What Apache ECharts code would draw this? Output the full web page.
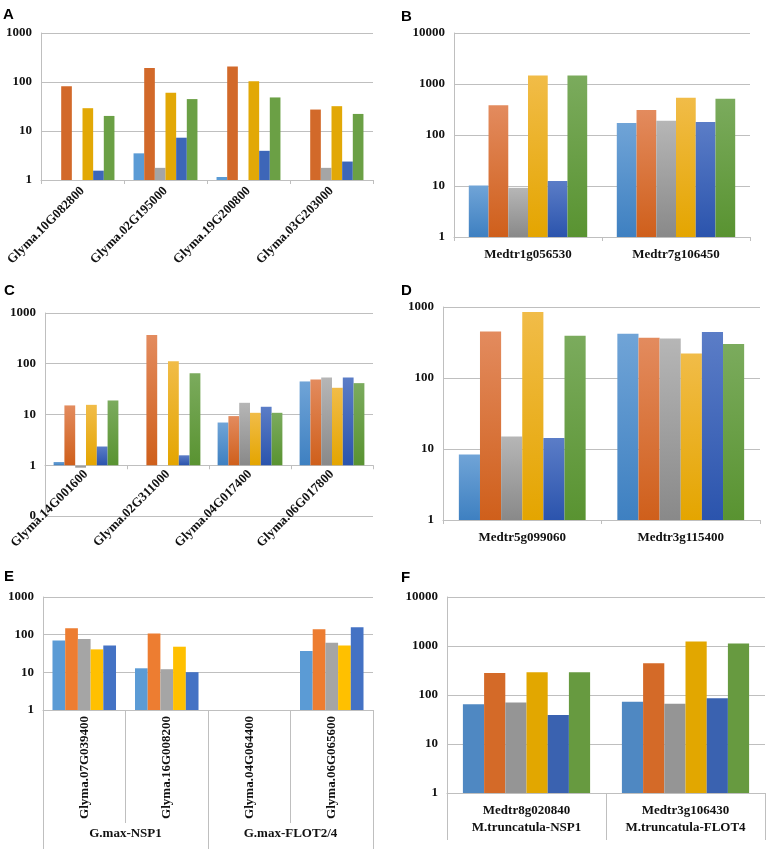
<!DOCTYPE html>
<html><head><meta charset="utf-8">
<script src="https://cdn.jsdelivr.net/npm/echarts@6.0.0/dist/echarts.min.js"></script>
<style>html,body{margin:0;padding:0;background:#fff}#c{width:767px;height:849px}</style>
</head><body><div id="c"></div>
<script>
// ---- data ----
const catsA = ['Glyma.10G082800','Glyma.02G195000','Glyma.19G200800','Glyma.03G203000'];
const valsA = [
  [null, 3.5, 1.15, null],
  [81.5, 194, 206, 27.4],
  [null, 1.77, null, 1.77],
  [29.2, 60.4, 103, 32.1],
  [1.55, 7.3, 3.94, 2.38],
  [20.3, 44.8, 48.4, 22.3]
];
const catsB = ['Medtr1g056530','Medtr7g106450'];
const valsB = [
  [10.2, 172],
  [384, 310],
  [9.2, 191],
  [1470, 535],
  [12.6, 180],
  [1470, 511]
];
const catsC = ['Glyma.14G001600','Glyma.02G311000','Glyma.04G017400','Glyma.06G017800'];
const valsC = [
  [1.16, null, 6.95, 44.8],
  [15.1, 368, 9.3, 49],
  [0.9, null, 17, 53.8],
  [15.5, 112, 10.8, 33.6],
  [2.34, 1.57, 14.2, 53.8],
  [18.9, 65, 10.8, 41.5]
];
const catsD = ['Medtr5g099060','Medtr3g115400'];
const valsD = [
  [8.35, 420],
  [453, 369],
  [15, 361],
  [849, 222],
  [14.3, 444],
  [394, 300]
];
const catsE = ['Glyma.07G039400','Glyma.16G008200','Glyma.04G064400','Glyma.06G065600'];
const groupsE = ['G.max-NSP1','G.max-FLOT2/4'];
const valsE = [
  [70.3, 12.8, null, 36.8],
  [149, 108, null, 140],
  [76.2, 12.1, null, 61],
  [40.7, 47.9, null, 51.9],
  [51.9, 10.1, null, 158]
];
const catsF = ['Medtr8g020840','Medtr3g106430'];
const groupsF = ['M.truncatula-NSP1','M.truncatula-FLOT4'];
const valsF = [
  [65, 73],
  [280, 445],
  [70, 66],
  [290, 1230],
  [39, 86],
  [290, 1120]
];

// ---- styles ----
const SERIF = 'Liberation Serif';
const SANS = 'Liberation Sans';
const LINE = '#BFBFBF';
const TXT = '#111';
const flatA = ['#5B9BD5','#D2692A','#A5A5A5','#E2A806','#3D66B8','#6BA045'];
const flatE = ['#5B9BD5','#ED7D31','#A5A5A5','#FFC000','#4472C4'];
const flatF = ['#4F88C2','#D46A28','#959595','#E2A700','#3A62B0','#679A40'];
function grad(top, bottom){
  return {type:'linear',x:0,y:0,x2:0,y2:1,colorStops:[{offset:0,color:top},{offset:1,color:bottom}]};
}
const gradBD = [
  grad('#70A4D7','#3E80C1'),
  grad('#E38B5E','#CF5F1B'),
  grad('#B6B6B6','#898989'),
  grad('#F1BC48','#E4A500'),
  grad('#5B7DC7','#2B54AD'),
  grad('#7BAB5D','#599331')
];

const panels = [
  {key:'A', cats:catsA, vals:valsA, colors:flatA, grid:{left:41,top:33,width:332,height:147}, yMin:1, yMax:1000, rotate:45, gap:'23%', letter:[3,7], margin:9},
  {key:'B', cats:catsB, vals:valsB, colors:gradBD, grid:{left:454,top:33,width:296,height:204}, yMin:1, yMax:10000, rotate:0, gap:'20%', letter:[401,9], margin:11},
  {key:'C', cats:catsC, vals:valsC, colors:gradBD, grid:{left:45,top:313,width:328,height:203}, yMin:0.1, yMax:1000, rotate:45, gap:'21%', letter:[4,283], shiftAxis:true, margin:7},
  {key:'D', cats:catsD, vals:valsD, colors:gradBD, grid:{left:443,top:307,width:317,height:213}, yMin:1, yMax:1000, rotate:0, gap:'20%', letter:[401,283], margin:11},
  {key:'E', cats:catsE, vals:valsE, colors:flatE, grid:{left:43,top:597,width:330,height:113}, yMin:1, yMax:1000, rotate:90, gap:'23%', letter:[4,569], groups:groupsE, margin:6},
  {key:'F', cats:catsF, vals:valsF, colors:flatF, grid:{left:447,top:597,width:318,height:196}, yMin:1, yMax:10000, rotate:0, gap:'20%', letter:[401,570], groups:groupsF, margin:11}
];

const labelStyle = {fontFamily:SERIF, fontWeight:'bold', fontSize:13, color:TXT};
const option = {animation:false, backgroundColor:'#fff', title:[], grid:[], xAxis:[], yAxis:[], series:[]};

panels.forEach((p, gi) => {
  option.title.push({text:p.key, left:p.letter[0], top:p.letter[1], padding:0,
    textStyle:{fontFamily:SANS, fontWeight:'bold', fontSize:15, color:'#000'}});
  option.grid.push(Object.assign({containLabel:false}, p.grid));
  option.yAxis.push({
    type:'log', logBase:10, gridIndex:gi, min:p.yMin, max:p.yMax,
    axisLine:{show:true, lineStyle:{color:LINE}},
    axisTick:{show:false},
    splitLine:{show:true, lineStyle:{color:LINE, width:1}},
    axisLabel:Object.assign({margin:9, formatter: v => (v < 1 ? '0' : String(Math.round(v)))}, labelStyle)
  });
  const xi = option.xAxis.length;
  let xa = {
    type:'category', gridIndex:gi, data:p.cats, position:'bottom',
    axisLine:{show:true, onZero:false, lineStyle:{color:LINE}},
    axisTick:{show:true, length:4, interval:0, lineStyle:{color:LINE}},
    axisLabel:Object.assign({interval:0, rotate:p.rotate, margin:p.margin}, labelStyle),
    splitLine:{show:false}
  };
  if (p.shiftAxis) xa.offset = -p.grid.height / 4;
  if (p.key === 'E') xa.axisTick.length = 113;
  if (p.key === 'F') xa.axisTick.length = 47;
  option.xAxis.push(xa);
  if (p.groups) {
    const g = {
      type:'category', gridIndex:gi, data:p.groups, position:'bottom',
      axisLine:{show:false, onZero:false},
      axisTick:{show:false},
      axisLabel:Object.assign({interval:0, margin:4}, labelStyle),
      splitLine:{show:false}
    };
    if (p.key === 'E') {
      g.offset = 113;
      g.axisTick = {show:true, length:27, interval:0, lineStyle:{color:LINE}};
    } else {
      g.offset = 24;
    }
    option.xAxis.push(g);
  }
  p.vals.forEach((arr, k) => {
    option.series.push({
      type:'bar', name:p.key + (k+1), xAxisIndex:xi, yAxisIndex:gi, data:arr,
      barGap:'0%', barCategoryGap:p.gap,
      itemStyle:{color:p.colors[k]}
    });
  });
});

const chart = echarts.init(document.getElementById('c'), null, {renderer:'canvas'});
chart.setOption(option);
</script>
</body></html>
